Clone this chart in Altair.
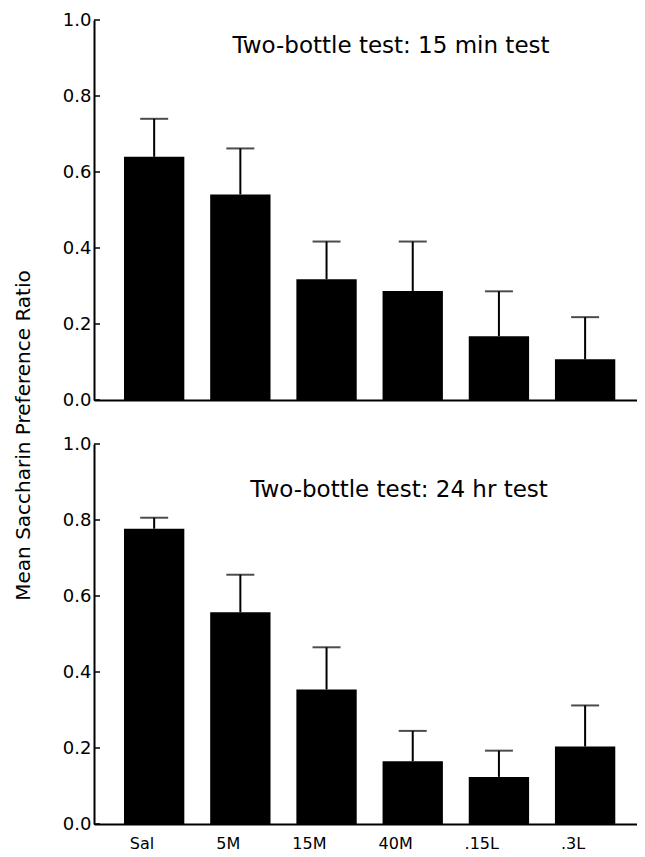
import altair as alt
import pandas as pd

groups = ["Sal", "5M", "15M", "40M", ".15L", ".3L"]
min15_mean = [0.640, 0.541, 0.318, 0.287, 0.168, 0.107]
min15_upper = [0.740, 0.662, 0.417, 0.417, 0.286, 0.218]
hr24_mean = [0.777, 0.557, 0.354, 0.165, 0.124, 0.204]
hr24_upper = [0.806, 0.656, 0.465, 0.245, 0.193, 0.312]
y_ticks = [0.0, 0.2, 0.4, 0.6, 0.8, 1.0]

FONT = "DejaVu Sans"
W, H = 543, 380

xscale = alt.Scale(domain=groups, paddingInner=0.3, paddingOuter=0.3, align=0.58)
yscale = alt.Scale(domain=[0, 1], nice=False, zero=True)


def panel(means, uppers, title, title_x, title_y, show_x_labels, show_y_title):
    df = pd.DataFrame({"group": groups, "mean": means, "upper": uppers})
    ticks_df = pd.DataFrame({"t": y_ticks})

    if show_x_labels:
        xaxis = alt.Axis(title=None, labelFont=FONT, labelFontSize=16, labelColor="black",
                         labelAngle=0, labelPadding=19, ticks=False, tickSize=0,
                         domainColor="black", domainWidth=2)
    else:
        xaxis = alt.Axis(title=None, labels=False, ticks=False, tickSize=0,
                         domainColor="black", domainWidth=2)

    common_y = dict(values=y_ticks, format=".1f", labelFont=FONT, labelFontSize=18,
                    labelColor="black", labelPadding=3, ticks=False, tickSize=0, grid=False,
                    domainColor="black", domainWidth=2)
    if show_y_title:
        yaxis = alt.Axis(title="Mean Saccharin Preference Ratio",
                         titleFont=FONT, titleFontSize=20, titleFontWeight="normal",
                         titleColor="black", titleAngle=270, titleAlign="center",
                         titleBaseline="alphabetic", titleX=-65, titleY=415, **common_y)
    else:
        yaxis = alt.Axis(title=None, **common_y)

    base = alt.Chart(df)
    bars = base.mark_bar(color="black").encode(
        x=alt.X("group:N", scale=xscale, axis=xaxis, sort=groups),
        y=alt.Y("mean:Q", scale=yscale, axis=yaxis),
    )
    err = base.mark_rule(color="black", strokeWidth=2).encode(
        x=alt.X("group:N", scale=xscale, sort=groups),
        y=alt.Y("mean:Q", scale=yscale),
        y2="upper:Q",
    )
    cap = base.mark_tick(color="black", size=28, thickness=2).encode(
        x=alt.X("group:N", scale=xscale, sort=groups),
        y=alt.Y("upper:Q", scale=yscale),
    )
    tickmarks = alt.Chart(ticks_df).mark_rule(color="black", strokeWidth=1.5).encode(
        y=alt.Y("t:Q", scale=yscale),
        x=alt.value(0),
        x2=alt.value(6),
    )
    txt = alt.Chart(pd.DataFrame({"label": [title]})).mark_text(
        font=FONT, fontSize=23, color="black", align="center", baseline="middle"
    ).encode(text="label:N", x=alt.value(title_x), y=alt.value(title_y))

    return alt.layer(err, cap, bars, tickmarks, txt).properties(width=W, height=H)


top = panel(min15_mean, min15_upper, "Two-bottle test:  15 min test", 297, 26, False, True)
bottom = panel(hr24_mean, hr24_upper, "Two-bottle test:  24 hr test", 305, 46, True, False)

chart = alt.vconcat(top, bottom, spacing=44, bounds="flush").properties(
    padding={"left": 5, "top": 3, "right": 0, "bottom": 0},
    background="white",
).configure_view(stroke="transparent", strokeWidth=0)

chart.save("out.html", embed_options={"renderer": "svg", "actions": False})
